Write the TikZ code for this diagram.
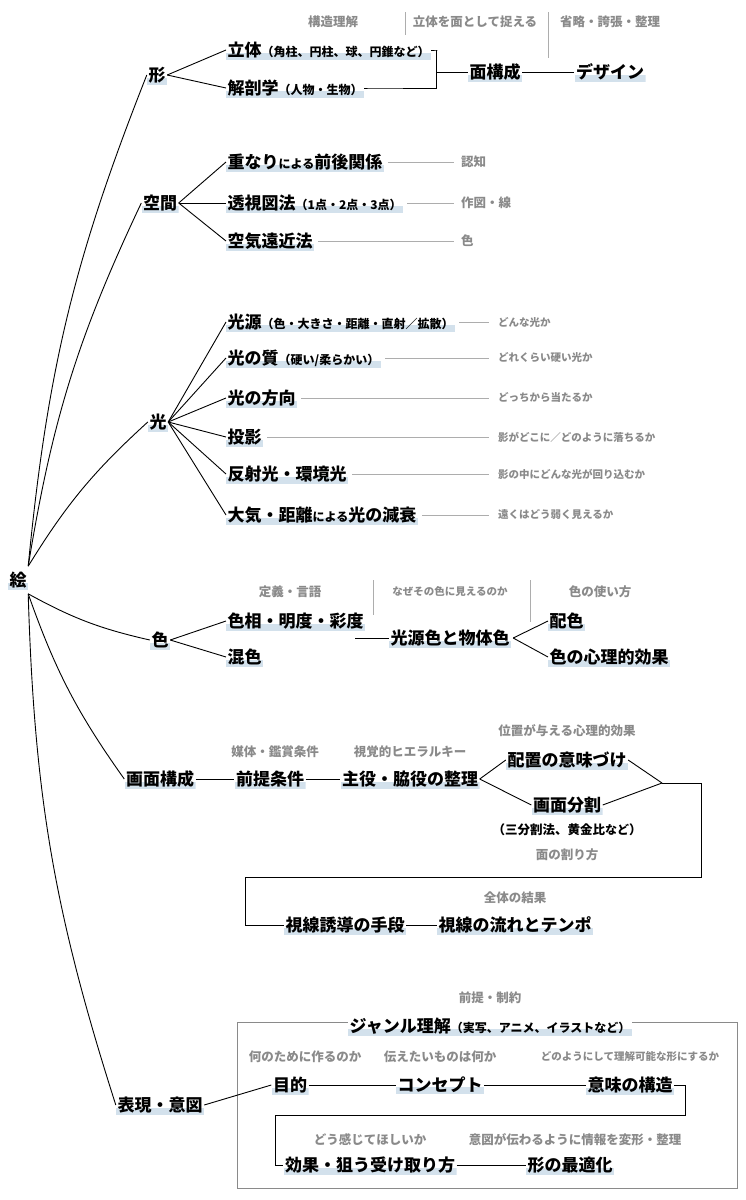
\documentclass[tikz,border=0pt]{standalone}
\usepackage{fontspec}
\setmainfont{Noto Sans CJK JP}
\definecolor{hl}{HTML}{D3E1EC}
\definecolor{gr}{HTML}{8A8A8A}
\newcommand{\sm}[1]{{\fontsize{12}{14}\selectfont #1}}
\tikzset{
 m/.style={font=\bfseries\fontsize{17}{20}\selectfont, inner sep=1.5pt,
   path picture={\fill[hl] (path picture bounding box.south west) rectangle ([yshift=7pt]path picture bounding box.south east);}},
 g/.style={font=\bfseries\fontsize{12.5}{14}\selectfont, text=gr, inner sep=1pt},
 gs/.style={font=\bfseries\fontsize{10.5}{12}\selectfont, text=gr, inner sep=1pt},
 ln/.style={line width=0.9pt},
 gl/.style={line width=0.9pt, draw=gr!70},
 sep/.style={line width=0.9pt, draw=gr!70},
}
\begin{document}
\begin{tikzpicture}[x=1pt,y=-1pt]
\useasboundingbox (0,0) rectangle (745,1200);
\node[m] (e) at (18,580) {絵};
% categories
\node[m] (c1) at (157,75) {形};
\node[m] (c2) at (160,203) {空間};
\node[m] (c3) at (158,422) {光};
\node[m] (c4) at (160,640) {色};
\node[m] (c5) at (160,779) {画面構成};
\node[m] (c6) at (160,1105) {表現・意図};
\foreach \c/\b in {c1/8,c2/8,c3/8}
  \draw[ln] ([yshift=4pt]e.north east) to[bend left=\b] (\c.west);
\foreach \c/\b in {c4/8,c5/8,c6/8}
  \draw[ln] ([yshift=-4pt]e.south east) to[bend right=\b] (\c.west);
% 形
\node[m,anchor=west] (a1) at (226,50) {立体\sm{（角柱、円柱、球、円錐など）}};
\node[m,anchor=west] (a2) at (226,88) {解剖学\sm{（人物・生物）}};
\node[m] (a3) at (495,72) {面構成};
\node[m] (a4) at (610,72) {デザイン};
\node[g] (a5) at (333,22) {構造理解};
\node[g] (a6) at (475,22) {立体を面として捉える};
\node[g] (a7) at (610,22) {省略・誇張・整理};
\draw[sep] (405,12) -- (405,35);
\draw[sep] (548,12) -- (548,58);
\draw[ln] (c1.east) -- (a1.west);
\draw[ln] (c1.east) -- (a2.west);
\coordinate (j1) at (436,72);
\draw[ln] (a1.east) -- ++(6,0) -| (j1);
\draw[ln] (a2.east) -- ++(6,0) -| (j1);
\draw[ln] (j1) -- (a3.west);
\draw[ln] (a3.east) -- (a4.west);
% 空間
\node[m,anchor=west] (b1) at (226,162) {重なり\sm{による}前後関係};
\node[m,anchor=west] (b2) at (226,203) {透視図法\sm{（1点・2点・3点）}};
\node[m,anchor=west] (b3) at (226,241) {空気遠近法};
\node[g,anchor=west] (b4) at (460,162) {認知};
\node[g,anchor=west] (b5) at (460,203) {作図・線};
\node[g,anchor=west] (b6) at (460,241) {色};
\foreach \i/\j in {b1/b4,b2/b5,b3/b6}{
  \draw[ln] (c2.east) -- (\i.west);
  \draw[gl] ([xshift=4pt]\i.east) -- ([xshift=-6pt]\j.west);}
% 光
\node[m,anchor=west] (l1) at (226,322) {光源\sm{（色・大きさ・距離・直射／拡散）}};
\node[m,anchor=west] (l2) at (226,358) {光の質\sm{（硬い/柔らかい）}};
\node[m,anchor=west] (l3) at (226,398) {光の方向};
\node[m,anchor=west] (l4) at (226,437) {投影};
\node[m,anchor=west] (l5) at (226,474) {反射光・環境光};
\node[m,anchor=west] (l6) at (226,515) {大気・距離\sm{による}光の減衰};
\node[gs,anchor=west] (k1) at (497,322) {どんな光か};
\node[gs,anchor=west] (k2) at (497,358) {どれくらい硬い光か};
\node[gs,anchor=west] (k3) at (497,398) {どっちから当たるか};
\node[gs,anchor=west] (k4) at (497,437) {影がどこに／どのように落ちるか};
\node[gs,anchor=west] (k5) at (497,474) {影の中にどんな光が回り込むか};
\node[gs,anchor=west] (k6) at (497,515) {遠くはどう弱く見えるか};
\foreach \i/\j in {l1/k1,l2/k2,l3/k3,l4/k4,l5/k5,l6/k6}{
  \draw[ln] (c3.east) -- (\i.west);
  \draw[gl] ([xshift=4pt]\i.east) -- ([xshift=-8pt]\j.west);}
% 色
\node[m,anchor=west] (d1) at (226,621) {色相・明度・彩度};
\node[m,anchor=west] (d2) at (226,657) {混色};
\node[m] (d3) at (450,638) {光源色と物体色};
\node[m,anchor=west] (d4) at (548,621) {配色};
\node[m,anchor=west] (d5) at (548,657) {色の心理的効果};
\node[g] (d6) at (290,592) {定義・言語};
\node[gs] (d7) at (450,592) {なぜその色に見えるのか};
\node[g] (d8) at (600,592) {色の使い方};
\draw[sep] (373,580) -- (373,615);
\draw[sep] (530,580) -- (530,622);
\draw[ln] (c4.east) -- (d1.west);
\draw[ln] (c4.east) -- (d2.west);
\draw[ln] (355,638) -- (d3.west);
\draw[ln] ([xshift=2pt]d3.east) -- (d4.west);
\draw[ln] ([xshift=2pt]d3.east) -- (d5.west);
% 画面構成
\node[m] (f1) at (270,779) {前提条件};
\node[m] (f2) at (410,779) {主役・脇役の整理};
\node[m] (f3) at (567,760) {配置の意味づけ};
\node[m] (f4) at (567,805) {画面分割};
\node[font=\bfseries\fontsize{12.5}{14}\selectfont, inner sep=1pt] (f5) at (567,830) {（三分割法、黄金比\sm{など}）};
\node[g] (f6) at (567,855) {面の割り方};
\node[g] (f7) at (275,752) {媒体・鑑賞条件};
\node[g] (f8) at (410,752) {視覚的ヒエラルキー};
\node[g] (f9) at (567,731) {位置が与える心理的効果};
\node[m] (f10) at (345,925) {視線誘導の手段};
\node[m] (f11) at (515,925) {視線の流れとテンポ};
\node[g] (f12) at (515,898) {全体の結果};
\draw[ln] (c5.east) -- (f1.west);
\draw[ln] (f1.east) -- (f2.west);
\draw[ln] (f2.east) -- (f3.west);
\draw[ln] (f2.east) -- (f4.west);
\coordinate (j2) at (662,783);
\draw[ln] (f3.east) -- (j2);
\draw[ln] (f4.east) -- (j2);
\draw[ln] (j2) -- (701,783) -- (701,877) -- (245,877) -- (245,925) -- (f10.west);
\draw[ln] (f10.east) -- (f11.west);
% 表現・意図
\draw[line width=0.7pt, draw=gr] (237,1022) rectangle (737,1188);
\node[g] (h0) at (490,998) {前提・制約};
\node[m,fill=white] (h1) at (490,1026) {ジャンル理解\sm{（実写、アニメ、イラストなど）}};
\node[g] (h2) at (305,1057) {何のために作るのか};
\node[g] (h3) at (440,1057) {伝えたいものは何か};
\node[gs] (h4) at (630,1057) {どのようにして理解可能な形にするか};
\node[m] (h5) at (290,1085) {目的};
\node[m] (h6) at (440,1085) {コンセプト};
\node[m] (h7) at (630,1085) {意味の構造};
\node[g] (h8) at (370,1140) {どう感じてほしいか};
\node[g] (h9) at (575,1140) {意図が伝わるように情報を変形・整理};
\node[m] (h10) at (370,1165) {効果・狙う受け取り方};
\node[m] (h11) at (570,1165) {形の最適化};
\draw[ln] (c6.east) -- (h5.west);
\draw[ln] (h5.east) -- (h6.west);
\draw[ln] (h6.east) -- (h7.west);
\draw[ln] (h7.east) -- (685,1085) -- (685,1115) -- (275,1115) -- (275,1165) -- (h10.west);
\draw[ln] (h10.east) -- (h11.west);
\end{tikzpicture}
\end{document}
